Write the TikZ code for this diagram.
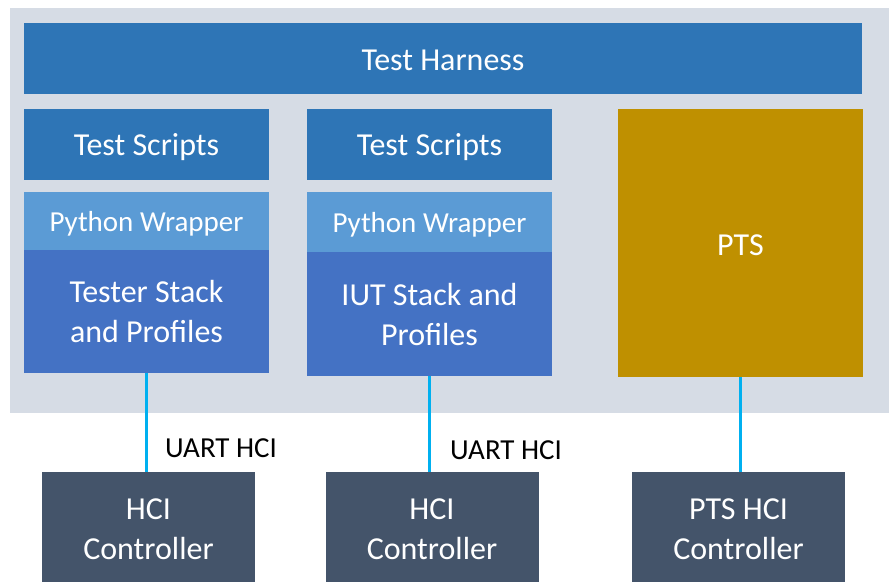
\documentclass[tikz,border=0pt]{standalone}
\usepackage{fontspec}
\setmainfont{Carlito}
\definecolor{bgc}{HTML}{D6DCE5}
\definecolor{harness}{HTML}{2E75B6}
\definecolor{wrap}{HTML}{5B9BD5}
\definecolor{stack}{HTML}{4472C4}
\definecolor{pts}{HTML}{BF9000}
\definecolor{ctrl}{HTML}{44546A}
\definecolor{link}{HTML}{00B0F0}
\begin{document}
\begin{tikzpicture}[x=1bp,y=-1bp,
  box/.style={draw=none, inner sep=0pt, outer sep=0pt},
  big/.style={text=white, align=center, inner sep=0pt, font=\fontsize{32bp}{40bp}\selectfont},
  small/.style={text=white, align=center, inner sep=0pt, font=\fontsize{29bp}{35bp}\selectfont},
  tx/.style 2 args={label={[big,yshift=#1]center:{#2}}},
  stx/.style 2 args={label={[small,yshift=#1]center:{#2}}},
  conn/.style={draw=link, line width=3bp},
  lbl/.style={anchor=west, inner sep=0pt, font=\fontsize{29bp}{35bp}\selectfont}]
\useasboundingbox (0,0) rectangle (893,582);
\fill[bgc] (10,8) rectangle (889,413);
\node[box, fill=harness, minimum width=838bp, minimum height=71bp, tx={-2bp}{Test Harness}] (th) at (443,58.5) {};
% column 1
\node[box, fill=harness, minimum width=245bp, minimum height=71bp, tx={-3bp}{Test Scripts}] (ts1) at (146.5,144.5) {};
\node[box, fill=wrap, minimum width=245bp, minimum height=58bp, stx={-2.5bp}{Python Wrapper}] (pw1) at (146.5,221) {};
\node[box, fill=stack, minimum width=245bp, minimum height=123bp, tx={-0.5bp}{Tester Stack\\and Profiles}] (st1) at (146.5,311.5) {};
% column 2
\node[box, fill=harness, minimum width=245bp, minimum height=71bp, tx={-3bp}{Test Scripts}] (ts2) at (429.5,144.5) {};
\node[box, fill=wrap, minimum width=245bp, minimum height=60bp, stx={-2.5bp}{Python Wrapper}] (pw2) at (429.5,222) {};
\node[box, fill=stack, minimum width=245bp, minimum height=124bp, tx={-1bp}{IUT Stack and\\Profiles}] (st2) at (429.5,314) {};
% PTS
\node[box, fill=pts, minimum width=245bp, minimum height=268bp, tx={-2bp}{PTS}] (pts) at (740.5,243) {};
% controllers
\node[box, fill=ctrl, minimum width=213bp, minimum height=110bp, tx={-2.5bp}{HCI\\Controller}] (hc1) at (148.5,527) {};
\node[box, fill=ctrl, minimum width=213bp, minimum height=110bp, tx={-2.5bp}{HCI\\Controller}] (hc2) at (432,527) {};
\node[box, fill=ctrl, minimum width=213bp, minimum height=110bp, tx={-2.5bp}{PTS HCI\\Controller}] (hc3) at (738.5,527) {};
% connectors
\draw[conn] (st1.south) -- (st1.south |- hc1.north);
\draw[conn] (st2.south) -- (st2.south |- hc2.north);
\draw[conn] (pts.south) -- (pts.south |- hc3.north);
\node[lbl] (l1) at (165,448) {UART HCI};
\node[lbl] (l2) at (450,450) {UART HCI};
\end{tikzpicture}
\end{document}
